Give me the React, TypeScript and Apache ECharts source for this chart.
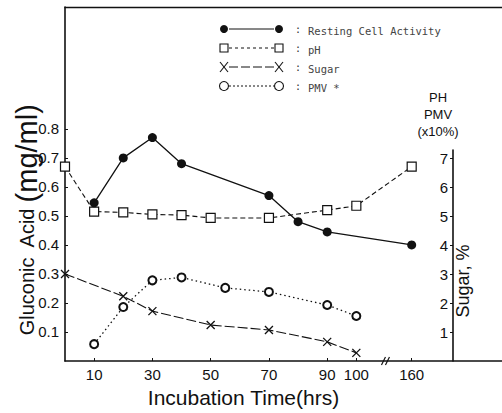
import React, { useEffect, useRef } from "react";
import * as echarts from "echarts";

// Incubation time (hrs) of each measured point, per series
const restingTime = [10, 20, 30, 40, 70, 80, 90, 160];
const phTime = [0, 10, 20, 30, 40, 50, 70, 90, 100, 160];
const sugarTime = [0, 20, 30, 50, 70, 90, 100];
const pmvTime = [10, 20, 30, 40, 55, 70, 90, 100];

// Gluconic acid, mg/ml (left axis)
const restingAcid = [0.545, 0.7, 0.77, 0.68, 0.57, 0.48, 0.445, 0.4];
// pH, sugar % and PMV (x10%) share the right-hand scale
const phValue = [6.7, 5.15, 5.12, 5.05, 5.03, 4.93, 4.93, 5.2, 5.35, 6.7];
const sugarPct = [3.0, 2.23, 1.72, 1.24, 1.07, 0.66, 0.28];
const pmvValue = [0.58, 1.86, 2.78, 2.88, 2.52, 2.38, 1.93, 1.55];

// Tick labels
const timeTicks = [10, 30, 50, 70, 90, 100, 160];
const acidTicks = [0.1, 0.2, 0.3, 0.4, 0.5, 0.6, 0.7, 0.8];
const rightTicks = [1, 2, 3, 4, 5, 6, 7];

// The time axis is broken between 100 and 160 hrs
const BREAK_FROM = 100;
const BREAK_TO = 160;
const BREAK_POS = 119;
const axisPos = (t: number) => (t > BREAK_FROM ? BREAK_POS + (t - BREAK_TO) : t);
const tickPos = timeTicks.map(axisPos);
const tickLabel = (v: number) => {
  const i = tickPos.findIndex((p) => Math.abs(p - v) < 1e-6);
  return i >= 0 ? String(timeTicks[i]) : "";
};

const INK = "#111";
const FONT = "Liberation Sans";
const MONO = "DejaVu Sans Mono";
const X_MARK = "path://M0,0L10,10M10,0L0,10";

export default function App() {
  const ref = useRef<HTMLDivElement>(null);

  useEffect(() => {
    if (!ref.current) return;
    const chart = echarts.init(ref.current, null, { renderer: "svg" });

    chart.setOption({
      animation: false,
      backgroundColor: "#fff",
      grid: [
        { left: 65, right: 0, top: 7, bottom: 52, outerBoundsMode: "none", containLabel: false },
        { left: 453, width: 20, top: 150, bottom: 52, outerBoundsMode: "none", containLabel: false },
      ],
      xAxis: [
        {
          gridIndex: 0,
          type: "value",
          min: 0,
          max: 150,
          splitLine: { show: false },
          axisLine: { onZero: false, lineStyle: { color: INK, width: 1.6 } },
          axisTick: { customValues: tickPos, inside: true, length: 3, lineStyle: { color: INK } },
          axisLabel: {
            customValues: tickPos,
            formatter: tickLabel,
            fontFamily: FONT,
            fontSize: 15,
            color: INK,
            margin: 6,
          },
          name: "Incubation Time(hrs)",
          nameLocation: "middle",
          nameGap: 26,
          nameTextStyle: { fontFamily: FONT, fontSize: 21, color: INK, padding: [0, 80, 0, 0] },
        },
        {
          gridIndex: 0,
          type: "value",
          position: "top",
          min: 0,
          max: 150,
          splitLine: { show: false },
          axisLine: { show: true, onZero: false, lineStyle: { color: INK, width: 1.4 } },
          axisTick: { show: false },
          axisLabel: { show: false },
        },
        { gridIndex: 1, type: "value", min: 0, max: 1, show: false },
      ],
      yAxis: [
        {
          gridIndex: 0,
          type: "value",
          min: 0,
          max: 1.22,
          splitLine: { show: false },
          axisLine: { onZero: false, lineStyle: { color: INK, width: 1.6 } },
          axisTick: { customValues: acidTicks, inside: true, length: 3, lineStyle: { color: INK } },
          axisLabel: {
            customValues: acidTicks,
            formatter: (v: number) => v.toFixed(1),
            fontFamily: FONT,
            fontSize: 15,
            color: INK,
            margin: 6,
          },
          name: "{s|Gluconic  Acid }{b|(mg/ml)}",
          nameLocation: "middle",
          nameGap: 24,
          nameMoveOverlap: false,
          nameTextStyle: {
            color: INK,
            padding: [0, 72, 0, 0],
            rich: {
              s: { fontFamily: FONT, fontSize: 20, color: INK, verticalAlign: "middle" },
              b: { fontFamily: FONT, fontSize: 29, color: INK, verticalAlign: "middle" },
            },
          },
        },
        { gridIndex: 0, type: "value", min: 0, max: 12.2, show: false },
        {
          gridIndex: 1,
          type: "value",
          position: "left",
          min: 0,
          max: 7.28,
          splitLine: { show: false },
          axisLine: { onZero: false, lineStyle: { color: INK, width: 1.6 } },
          axisTick: { customValues: rightTicks, length: 3, lineStyle: { color: INK } },
          axisLabel: {
            customValues: rightTicks,
            fontFamily: FONT,
            fontSize: 15,
            color: INK,
            margin: 5,
          },
          name: "PH\nPMV\n(x10%)",
          nameLocation: "end",
          nameGap: 10,
          nameTextStyle: {
            fontFamily: FONT,
            fontSize: 13,
            lineHeight: 17,
            color: INK,
            align: "center",
            padding: [0, 30, 0, 0],
          },
        },
      ],
      series: [
        {
          name: "Resting Cell Activity",
          type: "line",
          xAxisIndex: 0,
          yAxisIndex: 0,
          data: restingTime.map((t, i) => [axisPos(t), restingAcid[i]]),
          symbol: "circle",
          symbolSize: 9,
          itemStyle: { color: INK },
          lineStyle: { color: INK, width: 1.3 },
          z: 4,
        },
        {
          name: "pH",
          type: "line",
          xAxisIndex: 0,
          yAxisIndex: 1,
          data: phTime.map((t, i) => [axisPos(t), phValue[i]]),
          symbol: "rect",
          symbolSize: 9,
          itemStyle: { color: "#fff", borderColor: INK, borderWidth: 1.2 },
          lineStyle: { color: INK, width: 1.1, type: [5, 3] },
          z: 3,
        },
        {
          name: "Sugar",
          type: "line",
          xAxisIndex: 0,
          yAxisIndex: 1,
          data: sugarTime.map((t, i) => [axisPos(t), sugarPct[i]]),
          symbol: X_MARK,
          symbolSize: 8,
          itemStyle: { color: INK, borderColor: INK, borderWidth: 1.3 },
          lineStyle: { color: INK, width: 1.1, type: [10, 3] },
          z: 3,
        },
        {
          name: "PMV",
          type: "line",
          xAxisIndex: 0,
          yAxisIndex: 1,
          data: pmvTime.map((t, i) => [axisPos(t), pmvValue[i]]),
          symbol: "emptyCircle",
          symbolSize: 8,
          itemStyle: { color: INK, borderWidth: 1.2 },
          lineStyle: { color: INK, width: 1.3, type: [1.5, 3] },
          z: 3,
        },
      ],
    });

    // axis break marks, placed through the axis scale
    const [bx, by] = chart.convertToPixel({ xAxisIndex: 0, yAxisIndex: 0 }, [110, 0]) as number[];

    // hand-drawn style key: marker — line — marker : label
    const rows = [
      { label: "Resting Cell Activity", dash: null as number[] | null },
      { label: "pH", dash: [3, 3] },
      { label: "Sugar", dash: [9, 3] },
      { label: "PMV *", dash: [2, 2] },
    ];
    const rowY = [29, 48, 67, 86];
    const x0 = 224;
    const x1 = 279;
    const marker = (kind: number, x: number, y: number): any => {
      if (kind === 0) return { type: "circle", shape: { cx: x, cy: y, r: 4 }, style: { fill: INK } };
      if (kind === 1)
        return { type: "rect", shape: { x: x - 4, y: y - 4, width: 8, height: 8 }, style: { fill: "#fff", stroke: INK, lineWidth: 1.1 } };
      if (kind === 2)
        return {
          type: "group",
          children: [
            { type: "line", shape: { x1: x - 4, y1: y - 5, x2: x + 4, y2: y + 5 }, style: { stroke: INK, lineWidth: 1.1 } },
            { type: "line", shape: { x1: x + 4, y1: y - 5, x2: x - 4, y2: y + 5 }, style: { stroke: INK, lineWidth: 1.1 } },
          ],
        };
      return { type: "circle", shape: { cx: x, cy: y, r: 4.5 }, style: { fill: "#fff", stroke: INK, lineWidth: 1.1 } };
    };
    const legend: any[] = [];
    rows.forEach((r, i) => {
      const y = rowY[i];
      legend.push({
        type: "line",
        shape: { x1: x0 + 5, y1: y, x2: x1 - 5, y2: y },
        style: { stroke: INK, lineWidth: 1, lineDash: r.dash ?? undefined },
      });
      legend.push(marker(i, x0, y));
      legend.push(marker(i, x1, y));
      legend.push({ type: "text", x: 295, y, style: { text: ":", fontFamily: MONO, fontSize: 10, fill: "#333", verticalAlign: "middle" } });
      legend.push({
        type: "text",
        x: 308,
        y: y + 2,
        style: { text: r.label, fontFamily: MONO, fontSize: 10.5, fill: "#444", verticalAlign: "middle" },
      });
    });

    chart.setOption({
      graphic: [
        { type: "group", children: legend },
        {
          type: "group",
          children: [
            { type: "line", shape: { x1: bx - 4, y1: by + 4, x2: bx, y2: by - 4 }, style: { stroke: INK, lineWidth: 1.2 } },
            { type: "line", shape: { x1: bx, y1: by + 4, x2: bx + 4, y2: by - 4 }, style: { stroke: INK, lineWidth: 1.2 } },
          ],
        },
        {
          type: "text",
          x: 463,
          y: 281,
          rotation: Math.PI / 2,
          style: { text: "Sugar, %", fontFamily: FONT, fontSize: 18, fill: INK, align: "center", verticalAlign: "middle" },
        },
      ],
    });

    return () => chart.dispose();
  }, []);

  return <div ref={ref} style={{ position: "fixed", left: 0, top: 0, width: 502, height: 413 }} />;
}
